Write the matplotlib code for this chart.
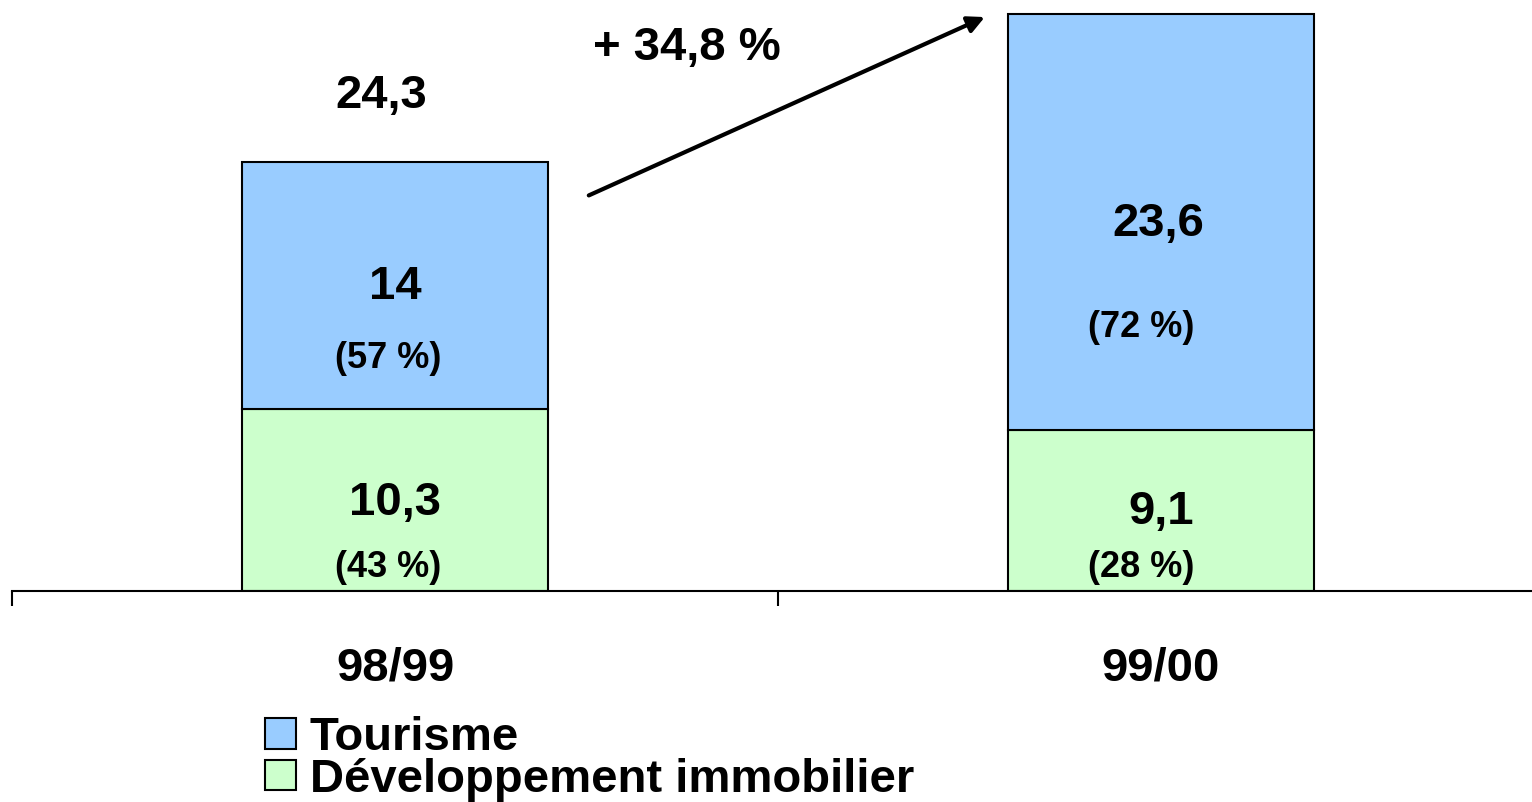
import matplotlib
matplotlib.use("Agg")
import matplotlib.pyplot as plt
from matplotlib.patches import Patch

plt.rcParams['font.family'] = ['Liberation Sans', 'DejaVu Sans']
plt.rcParams['font.weight'] = 'bold'

# data (millions)
years = ['98/99', '99/00']
tourisme = [14, 23.6]
immobilier = [10.3, 9.1]
totals = [24.3, 32.7]
tourisme_txt = ['14', '23,6']
immobilier_txt = ['10,3', '9,1']
tourisme_pct = ['(57 %)', '(72 %)']
immobilier_pct = ['(43 %)', '(28 %)']
growth_txt = '+ 34,8 %'
total_txt = ['24,3']

blue = '#99CCFF'
green = '#CCFFCC'

fig = plt.figure(figsize=(15.32, 8.02), dpi=100)
# axis line sits at y=591px, ~766 px per category, ~17.66 px per unit
ax = fig.add_axes([12 / 1532, (802 - 591) / 802, 1532 / 1532, 591 / 802])

x = [0, 1]
ax.bar(x, immobilier, width=0.4, color=green, edgecolor='black', linewidth=1.5, zorder=2)
ax.bar(x, tourisme, width=0.4, bottom=immobilier, color=blue, edgecolor='black', linewidth=1.5, zorder=2)

ax.set_xlim(-0.5, 1.5)
ax.set_ylim(0, 591 / 17.66)

big = 34
small = 26
# label offsets inside the segments
tour_lbl_dx = [0, -0.003]
tour_lbl_y = [17.2, 20.8]
pct_dx = [-0.009, -0.026]
tour_pct_y = [13.15, 14.9]
imm_lbl_dx = [0, 0]
imm_lbl_y = [5.0, 4.45]
imm_pct_y = [1.35, 1.35]
for i in range(2):
    ax.text(x[i] + tour_lbl_dx[i], tour_lbl_y[i], tourisme_txt[i], ha='center', va='center', fontsize=big)
    ax.text(x[i] + pct_dx[i], tour_pct_y[i], tourisme_pct[i], ha='center', va='center', fontsize=small)
    ax.text(x[i] + imm_lbl_dx[i], imm_lbl_y[i], immobilier_txt[i], ha='center', va='center', fontsize=big)
    ax.text(x[i] + pct_dx[i], imm_pct_y[i], immobilier_pct[i], ha='center', va='center', fontsize=small)

ax.text(x[0] - 0.018, totals[0] + 3.75, total_txt[0], ha='center', va='center', fontsize=big)
ax.text(0.381, 30.75, growth_txt, ha='center', va='center', fontsize=big)
ax.annotate('', xy=(0.77, 32.5), xytext=(0.253, 22.4),
            arrowprops=dict(arrowstyle='-|>', color='black', lw=3, mutation_scale=25,
                            shrinkA=0, shrinkB=0))

for s in ['left', 'right', 'top']:
    ax.spines[s].set_visible(False)
ax.spines['bottom'].set_linewidth(1.5)
ax.set_yticks([])
ax.set_xticks(x)
ax.set_xticklabels(years, fontsize=big)
ax.tick_params(axis='x', which='major', length=0, pad=40)
ax.set_xticks([-0.5, 0.5, 1.5], minor=True)
ax.tick_params(axis='x', which='minor', length=11, width=1.5, direction='out')

handles = [Patch(facecolor=blue, edgecolor='black', linewidth=1.5, label='Tourisme'),
           Patch(facecolor=green, edgecolor='black', linewidth=1.5, label='Développement immobilier')]
fig.legend(handles=handles, loc='upper left', bbox_to_anchor=(265 / 1532, 1 - 716 / 802),
           frameon=False, fontsize=big, handlelength=0.65, handleheight=0.62,
           handletextpad=0.3, labelspacing=-0.05, borderpad=0, borderaxespad=0)

fig.savefig('out.png', dpi=100)
